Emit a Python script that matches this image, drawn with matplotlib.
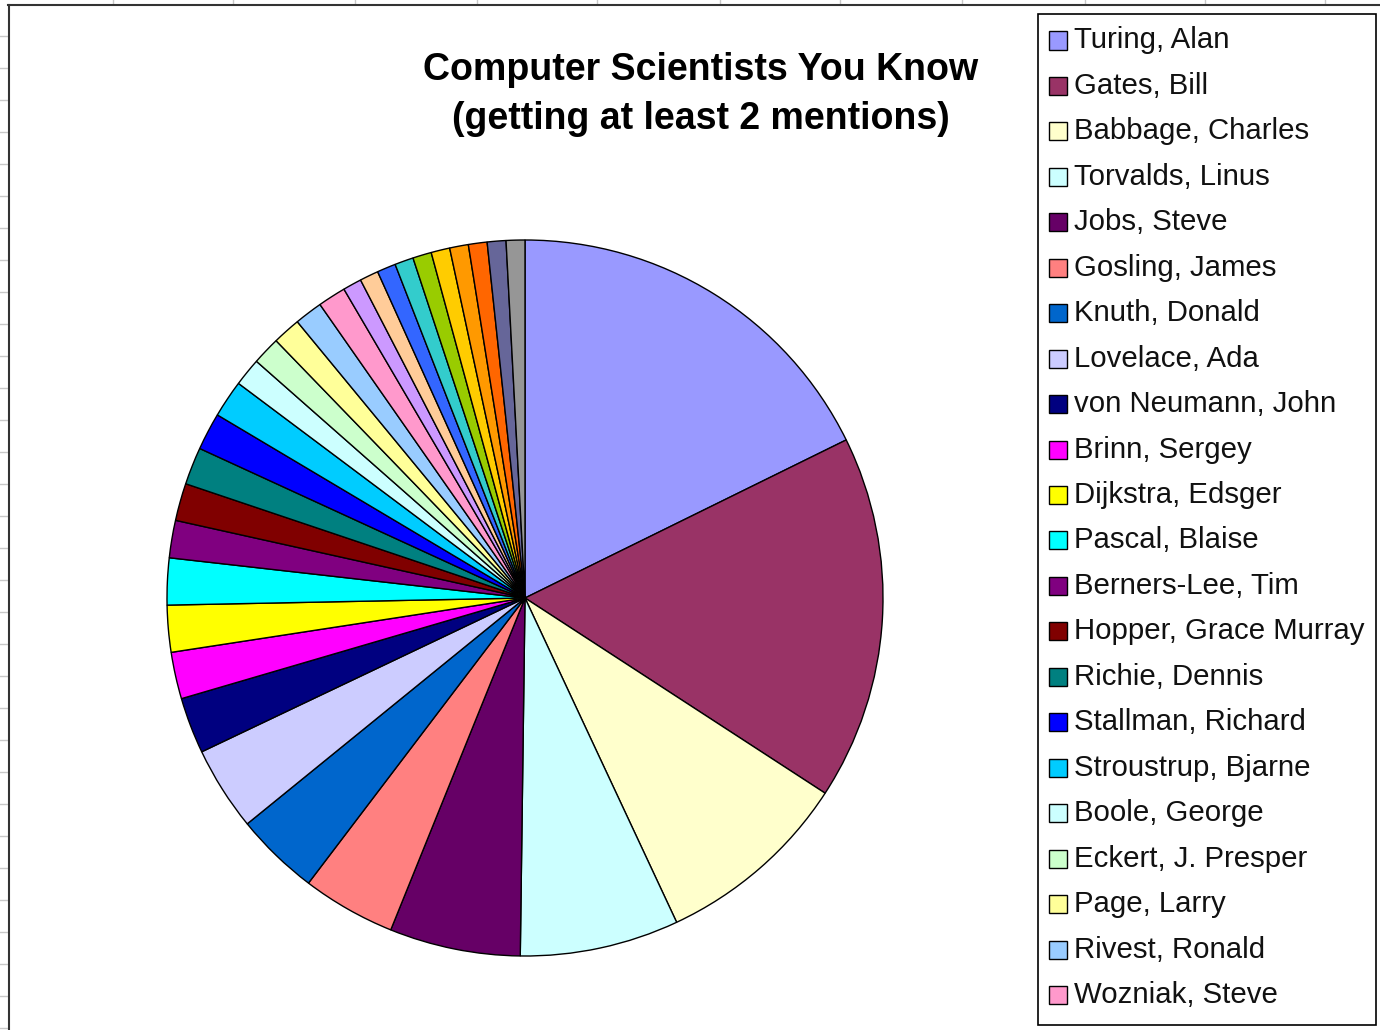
import matplotlib.pyplot as plt
from matplotlib.patches import Rectangle
from matplotlib.lines import Line2D

plt.rcParams['font.family'] = ['Liberation Sans', 'DejaVu Sans']

# names shown in the legend (Excel cut the legend after Wozniak)
names = [
    "Turing, Alan", "Gates, Bill", "Babbage, Charles", "Torvalds, Linus",
    "Jobs, Steve", "Gosling, James", "Knuth, Donald", "Lovelace, Ada",
    "von Neumann, John", "Brinn, Sergey", "Dijkstra, Edsger", "Pascal, Blaise",
    "Berners-Lee, Tim", "Hopper, Grace Murray", "Richie, Dennis",
    "Stallman, Richard", "Stroustrup, Bjarne", "Boole, George",
    "Eckert, J. Presper", "Page, Larry", "Rivest, Ronald", "Wozniak, Steve",
]
mentions = [42, 39, 21, 17, 14, 10, 9, 9, 6, 5, 5, 5,
            4, 4, 4, 4, 4, 3, 3, 3, 3, 3]
# slices past the end of the legend (names not visible)
more_mentions = [2, 2, 2, 2, 2, 2, 2, 2, 2, 2]

excel_colors = [
    "#9999FF", "#993366", "#FFFFCC", "#CCFFFF", "#660066", "#FF8080",
    "#0066CC", "#CCCCFF", "#000080", "#FF00FF", "#FFFF00", "#00FFFF",
    "#800080", "#800000", "#008080", "#0000FF", "#00CCFF", "#CCFFFF",
    "#CCFFCC", "#FFFF99", "#99CCFF", "#FF99CC", "#CC99FF", "#FFCC99",
    "#3366FF", "#33CCCC", "#99CC00", "#FFCC00", "#FF9900", "#FF6600",
    "#666699", "#969696",
]

values = mentions + more_mentions

W, H = 1380, 1030
fig = plt.figure(figsize=(W / 100, H / 100), dpi=100)

# spreadsheet bits peeking out around the chart
for gx in [113, 233, 355, 477, 597, 720, 840, 962, 1085, 1205, 1325]:
    fig.add_artist(Line2D([gx / W, gx / W], [1, 1 - 4 / H], color="#c8c8c8", lw=1))
for gy in range(36, H, 32):
    fig.add_artist(Line2D([0, 8 / W], [1 - gy / H, 1 - gy / H], color="#c8c8c8", lw=1))
fig.add_artist(Line2D([8 / W, 1], [1 - 4.5 / H, 1 - 4.5 / H], color="#333333", lw=1.5))
fig.add_artist(Line2D([8.5 / W, 8.5 / W], [0, 1 - 4.5 / H], color="#333333", lw=1.5))

# pie
cx, cy, r = 525, 598, 358
ax = fig.add_axes([(cx - r) / W, (H - cy - r) / H, 2 * r / W, 2 * r / H])
ax.pie(values, colors=excel_colors[:len(values)], startangle=90, counterclock=False,
       radius=1, wedgeprops=dict(edgecolor="black", linewidth=1.0))
ax.set_xlim(-1, 1)
ax.set_ylim(-1, 1)
ax.axis("off")

fig.text(701 / W, 1 - 70 / H, "Computer Scientists You Know", ha="center", va="center",
         fontsize=27, fontweight="bold")
fig.text(701 / W, 1 - 119 / H, "(getting at least 2 mentions)", ha="center", va="center",
         fontsize=27, fontweight="bold")

# legend box
fig.add_artist(Rectangle((1038 / W, 1 - 1025 / H), 338 / W, 1011 / H, transform=fig.transFigure,
                         facecolor="white", edgecolor="black", lw=1.2))
for i, name in enumerate(names):
    y = 40.5 + 45.45 * i
    fig.add_artist(Rectangle((1049 / W, 1 - (y + 9) / H), 18 / W, 18 / H, transform=fig.transFigure,
                             facecolor=excel_colors[i], edgecolor="black", lw=1))
    fig.text(1074 / W, 1 - y / H, name, ha="left", va="center", fontsize=21.2, color="#111111")

fig.savefig("out.png", dpi=100)
